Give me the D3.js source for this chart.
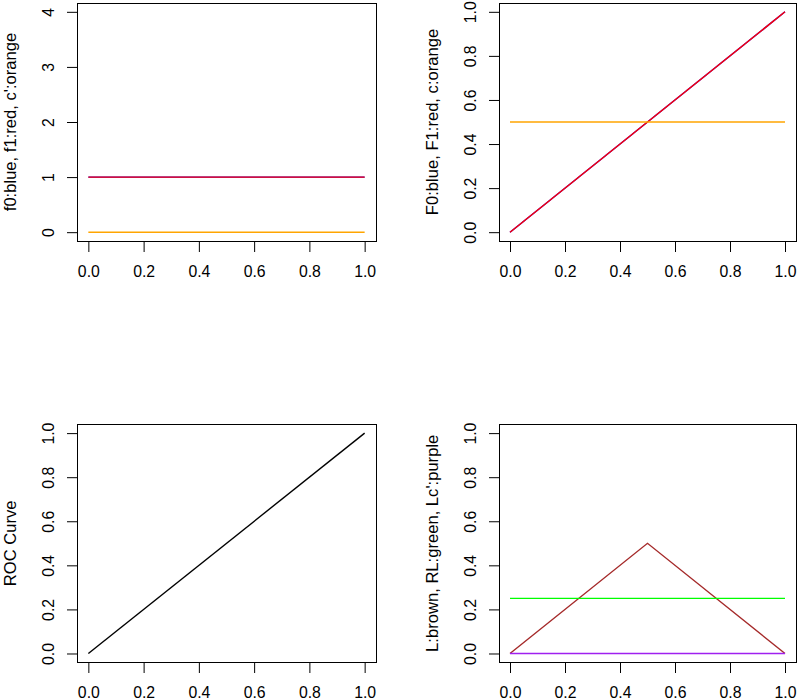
<!DOCTYPE html>
<html>
<head>
<meta charset="utf-8">
<script src="https://cdn.jsdelivr.net/npm/d3@7"></script>
<style>
  html, body { margin: 0; padding: 0; background: #fff; }
  svg { display: block; }
  text { font-family: "Liberation Sans", Arial, Helvetica, sans-serif; fill: #000; }
</style>
</head>
<body>
<script>
// ---- data ----
const xGrid = [0, 0.5, 1];
const f0 = [1, 1, 1];
const f1 = [1, 1, 1];
const cPrime = [0, 0, 0];
const F0 = [0, 0.5, 1];
const F1 = [0, 0.5, 1];
const cVals = [0.5, 0.5, 0.5];
const rocX = [0, 1];
const rocY = [0, 1];
const L = [0, 0.5, 0];
const RL = [0.25, 0.25, 0.25];
const Lc = [0, 0, 0];

const xTicks = [0, 0.2, 0.4, 0.6, 0.8, 1.0];
const yTicksDensity = [0, 1, 2, 3, 4];
const yTicksUnit = [0, 0.2, 0.4, 0.6, 0.8, 1.0];

const yTitles = ["f0:blue, f1:red, c':orange", "F0:blue, F1:red, c:orange", "ROC Curve", "L:brown, RL:green, Lc':purple"];

const W = 797, H = 699;
const svg = d3.select("body").append("svg").attr("width", W).attr("height", H);

const panels = [
  { box: [77.3, 375.7, 3, 241], yDom: [0, 4], yTicks: yTicksDensity, yFmt: d3.format("d"), title: yTitles[0],
    series: [ {x: xGrid, y: f0, color: "#0000FF"}, {x: xGrid, y: f1, color: "#FF0000"}, {x: xGrid, y: cPrime, color: "#FFA500"} ] },
  { box: [499, 796, 3, 241], yDom: [0, 1], yTicks: yTicksUnit, yFmt: d3.format(".1f"), title: yTitles[1],
    series: [ {x: xGrid, y: F0, color: "#0000FF"}, {x: xGrid, y: F1, color: "#FF0000"}, {x: xGrid, y: cVals, color: "#FFA500"} ] },
  { box: [77.3, 375.7, 424.3, 662.3], yDom: [0, 1], yTicks: yTicksUnit, yFmt: d3.format(".1f"), title: yTitles[2],
    series: [ {x: rocX, y: rocY, color: "#000000"} ] },
  { box: [499, 796, 424.3, 662.3], yDom: [0, 1], yTicks: yTicksUnit, yFmt: d3.format(".1f"), title: yTitles[3],
    series: [ {x: xGrid, y: L, color: "#A52A2A"}, {x: xGrid, y: RL, color: "#00FF00"}, {x: xGrid, y: Lc, color: "#A020F0"} ] }
];

panels.forEach(p => {
  const [x0, x1, y0, y1] = p.box;
  const xPad = 0.04 * 1;
  const yr = p.yDom[1] - p.yDom[0];
  const x = d3.scaleLinear().domain([0 - xPad, 1 + xPad]).range([x0, x1]);
  const y = d3.scaleLinear().domain([p.yDom[0] - 0.04 * yr, p.yDom[1] + 0.04 * yr]).range([y1, y0]);

  const g = svg.append("g");

  // series
  p.series.forEach(s => {
    const pts = s.x.map((v, i) => [v, s.y[i]]);
    g.append("path")
      .attr("d", d3.line().x(d => x(d[0])).y(d => y(d[1]))(pts))
      .attr("fill", "none")
      .attr("stroke", s.color)
      .attr("stroke-width", 1.4);
  });

  // box
  g.append("rect")
    .attr("x", Math.round(x0) + 0.5).attr("y", Math.round(y0) + 0.5)
    .attr("width", Math.round(x1) - Math.round(x0)).attr("height", Math.round(y1) - Math.round(y0))
    .attr("fill", "none").attr("stroke", "#000").attr("stroke-width", 1);

  // x axis
  const xa = g.append("g").attr("transform", `translate(0,${Math.round(y1) + 0.5})`)
    .call(d3.axisBottom(x).tickValues(xTicks).tickFormat(d3.format(".1f")).tickSize(10.5).tickSizeOuter(0));
  xa.select(".domain").remove();
  xa.selectAll(".tick line").attr("stroke", "#000");
  xa.selectAll(".tick text").attr("y", 35).attr("dy", 0)
    .style("font-size", "15.8px").attr("fill", "#000");

  // y axis
  const ya = g.append("g").attr("transform", `translate(${Math.round(x0) + 0.5},0)`)
    .call(d3.axisLeft(y).tickValues(p.yTicks).tickFormat(p.yFmt).tickSize(10.5).tickSizeOuter(0));
  ya.select(".domain").remove();
  ya.selectAll(".tick line").attr("stroke", "#000");
  ya.selectAll(".tick text")
    .attr("x", 0).attr("dy", 0)
    .attr("text-anchor", "middle")
    .attr("transform", "translate(-23.5,0) rotate(-90)")
    .style("font-size", "15.8px").attr("fill", "#000");

  // y title
  g.append("text")
    .attr("transform", `translate(${x0 - 61.5},${(y0 + y1) / 2}) rotate(-90)`)
    .attr("text-anchor", "middle")
    .style("font-size", "16.6px")
    .text(p.title);
});
</script>
</body>
</html>
